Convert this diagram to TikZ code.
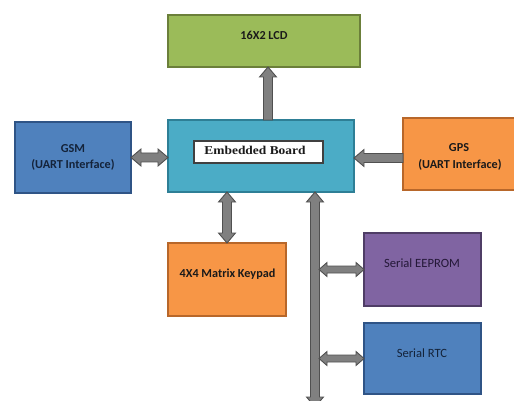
\documentclass[tikz,border=0pt]{standalone}
\usepackage{fontspec}
\setmainfont{Carlito}
\newfontfamily\boardfont[FakeStretch=1.12]{Liberation Serif}
\usetikzlibrary{calc}

\definecolor{lcdfill}{HTML}{9BBB59}
\definecolor{lcdline}{HTML}{6B7F3A}
\definecolor{boardfill}{HTML}{4BACC6}
\definecolor{boardline}{HTML}{2E7F96}
\definecolor{bluefill}{HTML}{4F81BD}
\definecolor{blueline}{HTML}{2F5486}
\definecolor{orangefill}{HTML}{F79646}
\definecolor{orangeline}{HTML}{B8672A}
\definecolor{purplefill}{HTML}{8064A2}
\definecolor{purpleline}{HTML}{4F3D66}
\definecolor{arrowfill}{HTML}{808080}
\definecolor{arrowline}{HTML}{505050}
\definecolor{inkdark}{HTML}{1A1A1A}
\definecolor{inkblue}{HTML}{14233A}
\definecolor{inkpurple}{HTML}{241838}

\tikzset{
  box/.style={rectangle, line width=1.6pt, inner sep=0pt, outer sep=0pt},
  sz/.style 2 args={minimum width=#1pt, minimum height=#2pt},
  lbl/.style={font=\fontsize{12.2}{15}\selectfont\bfseries, anchor=base, inner sep=0pt, text=inkdark},
  lblr/.style={font=\fontsize{12.6}{15}\selectfont, anchor=base, inner sep=0pt},
  fshaft/.store in=\fsw, fhead/.store in=\fhw, fheadlen/.store in=\fhl,
  fat/.style={fill=arrowfill, draw=arrowline, line width=0.9pt, line join=miter,
              fshaft=4.5, fhead=8.5, fheadlen=10},
  thin/.style={fshaft=3.5, fhead=7, fheadlen=8},
}

% block arrow from #2 to #3, head at the end only
\newcommand\singlearrow[3][]{%
  \path[fat,#1] let \p1=(#2), \p2=(#3),
      \n1={atan2(\y2-\y1,\x2-\x1)}, \n2={veclen(\x2-\x1,\y2-\y1)} in
    [shift={(\p1)}, rotate=\n1]
    (0,\fsw) -- (\n2-\fhl,\fsw) -- (\n2-\fhl,\fhw) -- (\n2,0)
    -- (\n2-\fhl,-\fhw) -- (\n2-\fhl,-\fsw) -- (0,-\fsw) -- cycle;}
% block arrow from #2 to #3, heads at both ends
\newcommand\biarrow[3][]{%
  \path[fat,#1] let \p1=(#2), \p2=(#3),
      \n1={atan2(\y2-\y1,\x2-\x1)}, \n2={veclen(\x2-\x1,\y2-\y1)} in
    [shift={(\p1)}, rotate=\n1]
    (0,0) -- (\fhl,\fhw) -- (\fhl,\fsw) -- (\n2-\fhl,\fsw) -- (\n2-\fhl,\fhw)
    -- (\n2,0) -- (\n2-\fhl,-\fhw) -- (\n2-\fhl,-\fsw) -- (\fhl,-\fsw)
    -- (\fhl,-\fhw) -- cycle;}

\begin{document}
\begin{tikzpicture}[x=1pt,y=-1pt]
\useasboundingbox (0,0) rectangle (514,401);
\clip (0,0) rectangle (514,401);

% blocks
\node[box, sz={192}{52}, fill=lcdfill, draw=lcdline] (lcd) at (264,41) {};
\node[box, sz={186}{72}, fill=boardfill, draw=boardline] (board) at (261,156) {};
\node[box, sz={129}{22}, fill=white, draw=black!75, line width=1.2pt] (boardtag) at (258.5,152) {};
\node[box, sz={116}{71}, fill=bluefill, draw=blueline] (gsm) at (73,157.5) {};
\node[box, sz={116}{72}, fill=orangefill, draw=orangeline] (gps) at (461,154) {};
\node[box, sz={118}{73}, fill=orangefill, draw=orangeline] (keypad) at (227,279.5) {};
\node[box, sz={117}{73}, fill=purplefill, draw=purpleline] (eeprom) at (422.5,269.5) {};
\node[box, sz={117}{71}, fill=bluefill, draw=blueline] (rtc) at (422.5,358.5) {};

% connectors
\coordinate (lcdA) at ($(board.north)+(7,0)$);
\singlearrow{lcdA}{lcdA |- lcd.south}
\biarrow{gsm.east}{gsm.east -| board.west}
\coordinate (gpsA) at ($(gps.west)+(0,4)$);
\singlearrow{gpsA}{gpsA -| board.east}
\biarrow{keypad.north |- board.south}{keypad.north}
\coordinate (busTop) at ($(board.south)+(54,0)$);
\coordinate (busBot) at (315,407);
\biarrow{busTop}{busBot}
\coordinate (busEdge) at ($(busTop)+(4,0)$);
\biarrow[thin]{busEdge |- eeprom.west}{eeprom.west}
\biarrow[thin]{busEdge |- rtc.west}{rtc.west}

% labels
\node[lbl] (lcdt) at (264,39.3) {16X2 LCD};
\node[anchor=base, inner sep=0pt, font=\boardfont\fontsize{12}{14}\selectfont\bfseries, text=inkdark] (boardt) at (255,154) {Embedded Board};
\node[lbl, text=inkblue] (gsmt1) at (73,152.7) {GSM};
\node[lbl, text=inkblue] (gsmt2) at (73,168.3) {(UART Interface)};
\node[lbl] (gpst1) at (459,151.7) {GPS};
\node[lbl] (gpst2) at (460,168) {(UART Interface)};
\node[lbl] (keypadt) at (227.5,277.3) {4X4 Matrix Keypad};
\node[lblr, text=inkpurple] (eepromt) at (422,267.7) {Serial EEPROM};
\node[lblr, text=inkblue] (rtct) at (422,357.7) {Serial RTC};
\end{tikzpicture}
\end{document}
